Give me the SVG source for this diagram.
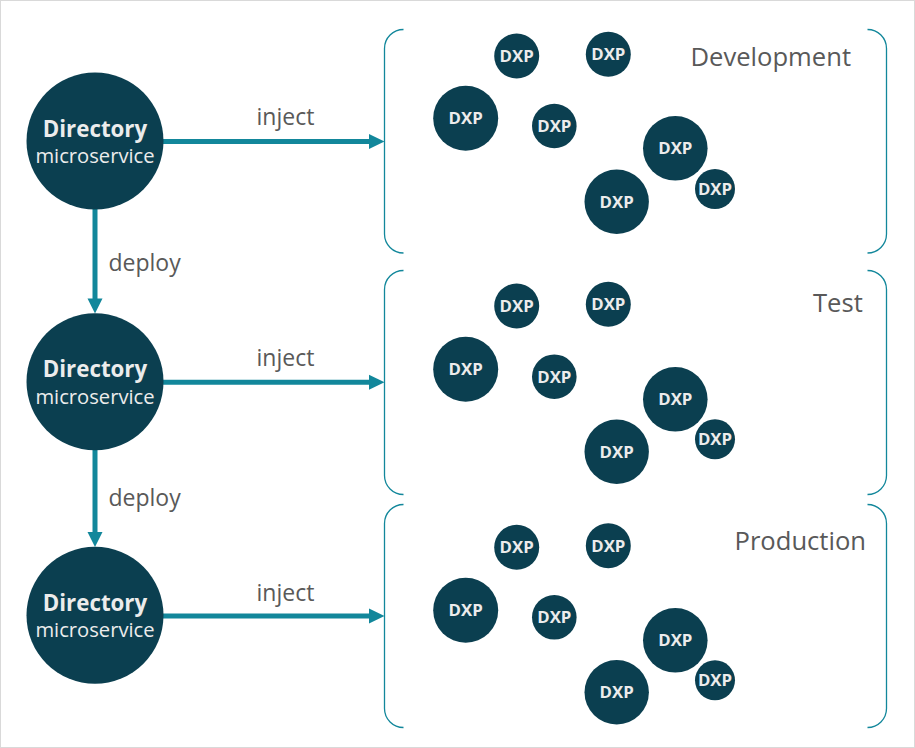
<svg xmlns="http://www.w3.org/2000/svg" width="915" height="748" viewBox="0 0 915 748">
<style>
.main{fill:#0b3f50}
.dxp{fill:#0b3f50}
.t1{font-family:"Open Sans","Noto Sans",sans-serif;font-weight:bold;font-size:22.3px;fill:#ececec;text-anchor:middle}
.t2{font-family:"Open Sans","Noto Sans",sans-serif;font-size:20.2px;fill:#ececec;text-anchor:middle}
.dt{font-family:"Open Sans","Noto Sans",sans-serif;font-weight:bold;font-size:16.8px;fill:#ececec;text-anchor:middle}
.lbl{font-family:"Open Sans","Noto Sans",sans-serif;font-size:23px;fill:#595959}
.env{font-family:"Open Sans","Noto Sans",sans-serif;font-size:25.6px;fill:#595959}
.br{fill:none;stroke:#12879b;stroke-width:1.3}
.ln{fill:none;stroke:#12879b;stroke-width:5}
.hd{fill:#12879b}
</style>
<rect x="0.5" y="0.5" width="914" height="747" fill="#ffffff" stroke="#d9d9d9" stroke-width="1"/>

<g id="connectors">
  <line class="ln" x1="163" y1="141.5" x2="371" y2="141.5"/>
  <polygon class="hd" points="369,134 384.5,141.5 369,149"/>
  <line class="ln" x1="163" y1="382.3" x2="371" y2="382.3"/>
  <polygon class="hd" points="369,374.8 384.5,382.3 369,389.8"/>
  <line class="ln" x1="163" y1="616" x2="371" y2="616"/>
  <polygon class="hd" points="369,608.5 384.5,616 369,623.5"/>
  <line class="ln" x1="95" y1="209" x2="95" y2="300"/>
  <polygon class="hd" points="87.5,298.5 95,313.5 102.5,298.5"/>
  <line class="ln" x1="95" y1="449" x2="95" y2="533"/>
  <polygon class="hd" points="87.5,532 95,547 102.5,532"/>
  <text class="lbl" x="256.5" y="125">inject</text>
  <text class="lbl" x="256.5" y="365.7">inject</text>
  <text class="lbl" x="256.5" y="601.3">inject</text>
  <text class="lbl" x="108.5" y="270.5">deploy</text>
  <text class="lbl" x="108.5" y="506.3">deploy</text>
</g>

<g id="directory1">
  <circle class="main" cx="95" cy="141" r="68.5"/>
  <text class="t1" x="95" y="136.7">Directory</text>
  <text class="t2" x="95" y="163.3">microservice</text>
</g>
<g id="directory2">
  <circle class="main" cx="95" cy="381.7" r="68.5"/>
  <text class="t1" x="95" y="377">Directory</text>
  <text class="t2" x="95" y="403.5">microservice</text>
</g>
<g id="directory3">
  <circle class="main" cx="95" cy="615.3" r="68.5"/>
  <text class="t1" x="95" y="610.7">Directory</text>
  <text class="t2" x="95" y="637.2">microservice</text>
</g>

<g id="development">
  <path class="br" d="M403.5 29.5 A19 19 0 0 0 384.5 48.5 L384.5 234 A19 19 0 0 0 403.5 253"/>
  <path class="br" d="M867.5 29.5 A19 19 0 0 1 886.5 48.5 L886.5 234 A19 19 0 0 1 867.5 253"/>
  <text class="env" x="690.5" y="66">Development</text>
  <g id="dev-dxp1"><circle class="dxp" cx="516.7" cy="56" r="22.5"/><text class="dt" x="516.7" y="62">DXP</text></g>
  <g id="dev-dxp2"><circle class="dxp" cx="608.3" cy="54.3" r="22.5"/><text class="dt" x="608.3" y="60.3">DXP</text></g>
  <g id="dev-dxp3"><circle class="dxp" cx="465.7" cy="118.3" r="32.5"/><text class="dt" x="465.7" y="124.3">DXP</text></g>
  <g id="dev-dxp4"><circle class="dxp" cx="554.3" cy="126" r="22.3"/><text class="dt" x="554.3" y="132">DXP</text></g>
  <g id="dev-dxp5"><circle class="dxp" cx="675.3" cy="148.3" r="32.3"/><text class="dt" x="675.3" y="154.3">DXP</text></g>
  <g id="dev-dxp6"><circle class="dxp" cx="616.7" cy="201.7" r="32.2"/><text class="dt" x="616.7" y="207.7">DXP</text></g>
  <g id="dev-dxp7"><circle class="dxp" cx="715" cy="189" r="20"/><text class="dt" x="715" y="195">DXP</text></g>
</g>

<g id="test">
  <path class="br" d="M403.5 270.5 A19 19 0 0 0 384.5 289.5 L384.5 475.5 A19 19 0 0 0 403.5 494.5"/>
  <path class="br" d="M867.5 270.5 A19 19 0 0 1 886.5 289.5 L886.5 475.5 A19 19 0 0 1 867.5 494.5"/>
  <text class="env" x="813" y="311.7">Test</text>
  <g id="test-dxp1"><circle class="dxp" cx="516.7" cy="306" r="22.5"/><text class="dt" x="516.7" y="312">DXP</text></g>
  <g id="test-dxp2"><circle class="dxp" cx="608.3" cy="304.3" r="22.5"/><text class="dt" x="608.3" y="310.3">DXP</text></g>
  <g id="test-dxp3"><circle class="dxp" cx="465.7" cy="369.3" r="32.5"/><text class="dt" x="465.7" y="375.3">DXP</text></g>
  <g id="test-dxp4"><circle class="dxp" cx="554.3" cy="376.7" r="22.3"/><text class="dt" x="554.3" y="382.7">DXP</text></g>
  <g id="test-dxp5"><circle class="dxp" cx="675.3" cy="399.3" r="32.3"/><text class="dt" x="675.3" y="405.3">DXP</text></g>
  <g id="test-dxp6"><circle class="dxp" cx="616.7" cy="451.7" r="32.2"/><text class="dt" x="616.7" y="457.7">DXP</text></g>
  <g id="test-dxp7"><circle class="dxp" cx="715" cy="439.3" r="20"/><text class="dt" x="715" y="445.3">DXP</text></g>
</g>

<g id="production">
  <path class="br" d="M403.5 504.5 A19 19 0 0 0 384.5 523.5 L384.5 708.5 A19 19 0 0 0 403.5 727.5"/>
  <path class="br" d="M867.5 504.5 A19 19 0 0 1 886.5 523.5 L886.5 708.5 A19 19 0 0 1 867.5 727.5"/>
  <text class="env" x="734.5" y="550">Production</text>
  <g id="prod-dxp1"><circle class="dxp" cx="516.7" cy="547.3" r="22.5"/><text class="dt" x="516.7" y="553.3">DXP</text></g>
  <g id="prod-dxp2"><circle class="dxp" cx="608.3" cy="545.7" r="22.5"/><text class="dt" x="608.3" y="551.7">DXP</text></g>
  <g id="prod-dxp3"><circle class="dxp" cx="465.7" cy="610.3" r="32.5"/><text class="dt" x="465.7" y="616.3">DXP</text></g>
  <g id="prod-dxp4"><circle class="dxp" cx="554.3" cy="617.3" r="22.3"/><text class="dt" x="554.3" y="623.3">DXP</text></g>
  <g id="prod-dxp5"><circle class="dxp" cx="675.3" cy="640.3" r="32.3"/><text class="dt" x="675.3" y="646.3">DXP</text></g>
  <g id="prod-dxp6"><circle class="dxp" cx="616.7" cy="692.3" r="32.2"/><text class="dt" x="616.7" y="698.3">DXP</text></g>
  <g id="prod-dxp7"><circle class="dxp" cx="715" cy="680.3" r="20"/><text class="dt" x="715" y="686.3">DXP</text></g>
</g>
</svg>
